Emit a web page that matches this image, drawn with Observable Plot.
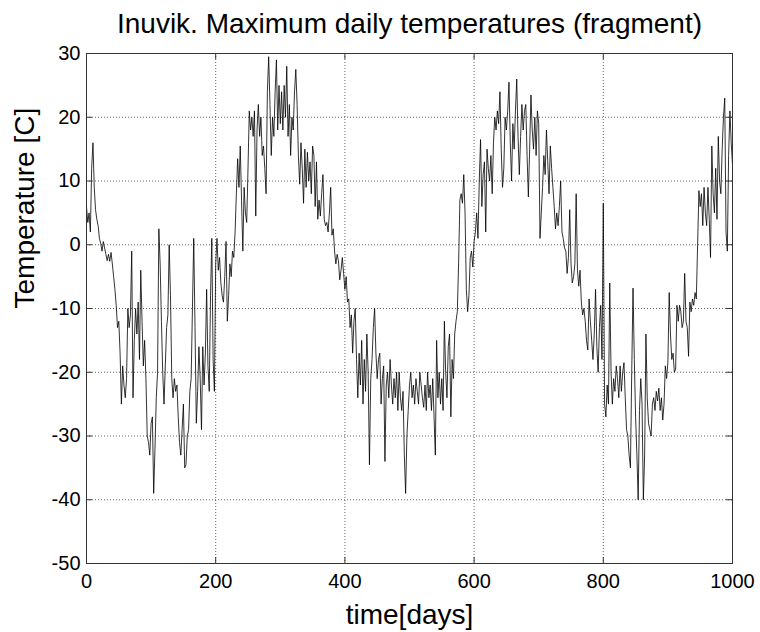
<!DOCTYPE html>
<html><head><meta charset="utf-8">
<script src="https://cdn.jsdelivr.net/npm/d3@7"></script>
<script src="https://cdn.jsdelivr.net/npm/@observablehq/plot@0.6"></script>
<style>body{margin:0;background:#fff}</style>
</head><body><div id="chart"></div>
<script>
const title = "Inuvik. Maximum daily temperatures (fragment)";
const xLabel = "time[days]";
const yLabel = "Temperature [C]";
const xTicks = [0, 200, 400, 600, 800, 1000];
const yTicks = [-50, -40, -30, -20, -10, 0, 10, 20, 30];
const dayStep = 2;

// days 0-98
const seg0 = [6, 3.5, 5, 2, 12, 16, 9, 5.5, 4, 3, 1, 0.2, -1, 0.5, -0.5, -1.5, -2.5, -1.5, -2.6, -1.2,
  -3, -5, -7, -9.5, -13, -12, -17, -25, -19, -22, -24, -21, -10, -13, -11, -1, -24, -15, -10, -14,
  -9, -18, -4, -12, -19, -15, -21, -30, -31, -33];
// days 100-198
const seg1 = [-28, -27, -39, -32, -24, -20, 2.5, -3, -12, -20, -25, -19, -13, -11, 0, -8, -21, -24, -21, -23,
  -22, -27, -31, -33, -29, -25, -35, -34.5, -30, -29, -23, -21, -10, 1, -13, -28, -23, -16, -21, -29,
  -16, -22, -17, -7, -19, -23, -8, 1, -18, -23];
// days 200-298
const seg2 = [-3, 1, -4, -2, -6, -8, -9, -5, 0.5, -12, -8, -3, -5, -1, -2, 2, 8, 13.5, 9, 15.5,
  7, -1, 9, 5, 3.5, 12, 21, 18, 20, 17, 21, 4.5, 18, 22, 17, 20, 14, 15.5, 12, 8,
  24, 29.5, 22, 14, 20, 17, 24, 29, 18, 25];
// days 300-398
const seg3 = [19, 24, 18, 25, 20, 28, 17, 22, 14, 20, 18, 24, 27.5, 22, 14, 9.5, 16, 12, 6.5, 15,
  9, 14.5, 10, 13, 8, 15.5, 14, 6, 13, 4, 7, 4.5, 8, 11, 4, 3, 3.5, 2, 5, 9,
  1.5, 2.5, -1, -3, -1.5, -2.5, -5.5, -4, -2, -4.5];
// days 400-498
const seg4 = [-7, -5, -9, -8.5, -13, -11, -17, -12, -10, -18, -24, -17, -22, -15, -25, -18, -23, -14, -20, -34.5,
  -21, -18, -13, -10, -17, -21, -18, -17, -25, -21, -19, -34, -22, -20, -24, -18, -22, -25, -21, -24,
  -20, -26, -20, -24, -26, -23, -33, -39, -30, -26];
// days 500-598
const seg5 = [-22, -20, -24, -22, -25, -21, -23, -25, -20, -22, -24, -25.5, -22, -26, -20, -24, -22, -26, -21, -27,
  -33, -15, -24, -20, -25, -21, -26, -12, -20, -24, -16, -14, -27, -18, -21, -14, -12, -10.5, -3, 7,
  8, 6.5, 11, 5, -7, -10.5, -8, -2, -1, -3.5];
// days 600-698
const seg6 = [0.5, 2, 5, 1, 10, 16.5, 6, 11, 13, 2, 15, 12, 10, 14, 8, 16, 20, 18, 21, 19,
  24, 15, 9, 12, 20, 18, 21, 25.5, 16, 10, 19, 15, 21, 26, 17, 11, 17, 22, 18, 21,
  22, 14, 7.5, 15, 23.5, 18, 15, 20, 14, 21];
// days 700-798
const seg7 = [19, 1, 5, 9, 14, 11, 18, 13, 8, 15.5, 12, 9, 6, 2.5, 5, 3, 6, 10, 2, 1,
  -0.5, -1, -4.5, -2, 5.5, -3, -6, -5, -3, 8, -4, -6.5, -4, -9, -11, -10, -12, -15, -16.5, -8.5,
  -12, -15, -18, -14, -7, -16, -20, -13, -9.5, -18];
// days 800-898
const seg8 = [6.5, -25, -27, -22, -25, -6, -20, -25, -21, -23, -19, -21, -24, -19, -23, -20, -18.5, -24, -29, -30,
  -33, -35, -20, -6.8, -18, -27, -33, -40, -26, -21, -25, -40, -33, -14, -24, -28, -29, -30, -25, -24,
  -26, -23, -24.5, -22.5, -26, -24, -27.5, -25, -19, -21];
// days 900-1000
const seg9 = [-18.5, -7.5, -14, -18, -17, -20, -19.5, -9.5, -12, -9.5, -10.5, -13, -12, -4.5, -12, -13, -17.5, -9, -10.5, -8.5,
  -9.5, -7.5, -8.5, 0, 8.5, 6, 8, 3, 9, 5, 3, 9, 4, -2, 15.5, 8, 5, 12, 4, 17,
  10, 8, 15, 20, 23, 2, -1, 14, 21, 16, 12.5];

const segments = [seg0, seg1, seg2, seg3, seg4, seg5, seg6, seg7, seg8, seg9];
const data = [];
segments.forEach((seg, k) => seg.forEach((t, i) => data.push({day: k * 100 + i * dayStep, temp: t})));

const axisColor = "#333";
const fmt = (d) => String(d);
const chart = Plot.plot({
  width: 760,
  height: 632,
  marginTop: 53,
  marginRight: 28,
  marginBottom: 69,
  marginLeft: 86,
  style: {fontFamily: "'Liberation Sans', Arial, Helvetica, sans-serif", fontSize: "20px", background: "#fff", color: "#000"},
  x: {domain: [0, 1000]},
  y: {domain: [-50, 30]},
  marks: [
    Plot.gridX(xTicks, {stroke: "#000", strokeOpacity: 0.6, strokeDasharray: "1,2"}),
    Plot.gridY(yTicks, {stroke: "#000", strokeOpacity: 0.6, strokeDasharray: "1,2"}),
    Plot.lineY(data, {x: "day", y: "temp", stroke: "#000", strokeWidth: 0.8}),
    Plot.ruleX(xTicks, {y1: -50, y2: -49.05, stroke: axisColor}),
    Plot.ruleX(xTicks, {y1: 29.05, y2: 30, stroke: axisColor}),
    Plot.ruleY(yTicks, {x1: 0, x2: 9.3, stroke: axisColor}),
    Plot.ruleY(yTicks, {x1: 990.7, x2: 1000, stroke: axisColor}),
    Plot.frame({stroke: axisColor}),
    Plot.axisX(xTicks, {tickSize: 0, tickPadding: 10, fontSize: 20, tickFormat: fmt, label: null}),
    Plot.axisY(yTicks, {tickSize: 0, tickPadding: 6, fontSize: 20, tickFormat: fmt, label: null}),
    Plot.text([title], {frameAnchor: "top", dy: -21, lineAnchor: "bottom", fontSize: 28}),
    Plot.text([xLabel], {frameAnchor: "bottom", dy: 60, lineAnchor: "bottom", fontSize: 28}),
    Plot.text([yLabel], {frameAnchor: "left", dx: -53, rotate: -90, lineAnchor: "bottom", fontSize: 28})
  ]
});
document.getElementById("chart").appendChild(chart);
</script>
</body></html>
